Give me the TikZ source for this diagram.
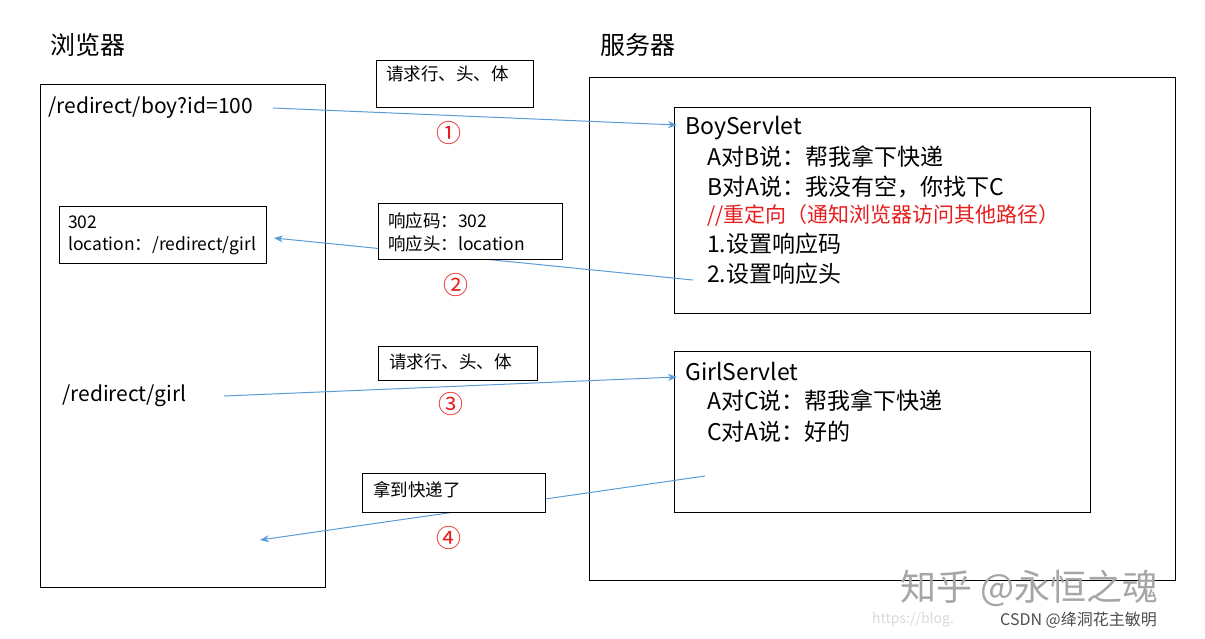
\documentclass[tikz,border=0pt]{standalone}
\usepackage{fontspec}
\setmainfont{Noto Sans CJK SC}
\usetikzlibrary{arrows.meta}
\definecolor{arr}{RGB}{91,155,213}
\definecolor{red1}{RGB}{230,30,30}
\tikzset{
 box/.style={draw,line width=1pt,fill=white},
 lbl/.style={font=\fontsize{17.5}{20}\selectfont,anchor=west,inner sep=0},
 big/.style={font=\fontsize{23}{25}\selectfont,anchor=west,inner sep=0},
 num/.style={font=\fontsize{25}{27}\selectfont,text=red1,inner sep=0},
 conn/.style={draw=arr,line width=1pt,-{Stealth[length=9pt,width=7pt]}}
}
\begin{document}
\begin{tikzpicture}[x=1pt,y=-1pt]
\useasboundingbox (0,0) rectangle (1205,638);
\node[big,font=\fontsize{25}{27}\selectfont] at (50,45) {浏览器};
\node[big,font=\fontsize{25}{27}\selectfont] at (600,45) {服务器};
\draw[line width=1pt] (40,84) rectangle (325,587);
\draw[line width=1pt] (589,77) rectangle (1175,580);
\node[big,font=\fontsize{21}{25}\selectfont] (req1) at (48,108) {/redirect/boy?id=100};
\coordinate (a1s) at (273,108);
\node[big,font=\fontsize{21}{25}\selectfont] (req3) at (62,396) {/redirect/girl};
\coordinate (a3s) at (224,396);
\draw[box] (674,107) rectangle (1090,313);
\coordinate (boyin) at (677,125);
\coordinate (boyout) at (693,280);
\coordinate (b302) at (274,238);
\draw[box] (674,351) rectangle (1090,512);
\coordinate (girlin) at (677,377);
\coordinate (girlout) at (705,476);
\coordinate (end4) at (260,540);
\draw[conn] (a1s) -- (boyin);
\draw[conn] (boyout) -- (b302);
\draw[conn] (a3s) -- (girlin);
\draw[conn] (girlout) -- (end4);
\draw[box] (376,60) rectangle (533,107);
\node[lbl] (t1) at (386,74) {请求行、头、体};
\draw[box] (59,206) rectangle (266,263);
\node[lbl] at (68,222) {302};
\node[lbl] at (68,246) {location：/redirect/girl};
\draw[box] (378,203) rectangle (562,259);
\node[lbl] at (388,221) {响应码：302};
\node[lbl] at (388,244) {响应头：location};
\draw[box] (378,346) rectangle (537,380);
\node[lbl] at (389,362) {请求行、头、体};
\draw[box] (362,473) rectangle (545,512);
\node[lbl] at (373,490) {拿到快递了};
\node[num] at (449,133) {①};
\node[num] at (456,285) {②};
\node[num] at (451,404) {③};
\node[num] at (449,538) {④};
\node[big] at (685,128) {BoyServlet};
\node[big] at (707,157) {A对B说：帮我拿下快递};
\node[big] at (707,187) {B对A说：我没有空，你找下C};
\node[big,text=red1,font=\fontsize{21}{22}\selectfont] at (707,215) {//重定向（通知浏览器访问其他路径）};
\node[big] at (707,244) {1.设置响应码};
\node[big] at (707,274) {2.设置响应头};
\node[big] at (685,371) {GirlServlet};
\node[big] at (707,401) {A对C说：帮我拿下快递};
\node[big] at (707,432) {C对A说：好的};
\node[anchor=west,inner sep=0,text=black!35,font=\fontsize{36}{38}\selectfont] at (900,588) {知乎 @永恒之魂};
\node[anchor=west,inner sep=0,text=black!15,font=\fontsize{14}{16}\selectfont] at (872,620) {https://blog.};
\node[anchor=west,inner sep=0,text=black!70,font=\fontsize{16}{17}\selectfont] at (1000,620) {CSDN @绛洞花主敏明};
\end{tikzpicture}
\end{document}
